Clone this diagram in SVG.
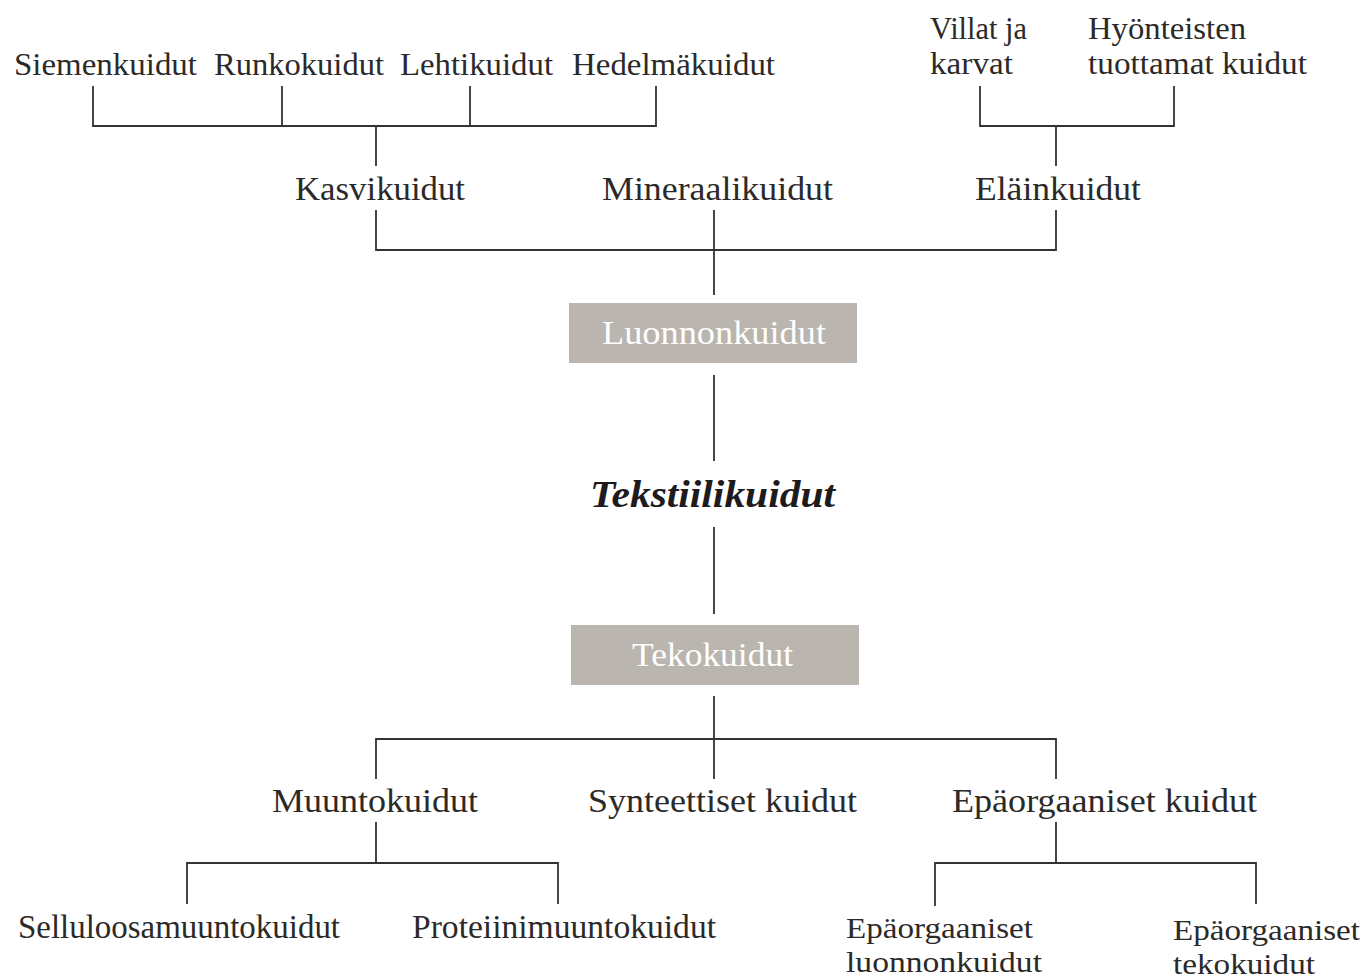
<svg xmlns="http://www.w3.org/2000/svg" width="1363" height="979" viewBox="0 0 1363 979">
<style>
.t{font-family:"Liberation Serif","DejaVu Serif",serif;fill:#2b2a29;}
.top{font-size:31px;}
.mid{font-size:33px;}
.bot{font-size:33px;}
.bot2{font-size:30px;}
.box{fill:#bab5ae;}
.bt{font-family:"Liberation Serif","DejaVu Serif",serif;font-size:33px;fill:#ffffff;}
.main{font-family:"Liberation Serif","DejaVu Serif",serif;font-size:38px;font-weight:bold;font-style:italic;fill:#1e1b1c;}
.c{stroke:#333333;stroke-width:1.8;fill:none;}
</style>
<rect width="1363" height="979" fill="#ffffff"/>
<g id="connectors">
<path class="c" d="M93 86V126H656V86M282 86V126M470 86V126M376 126V166"/>
<path class="c" d="M980 86V126H1174V86M1056 126V166"/>
<path class="c" d="M376 210V250H1056V210M714 210V295"/>
<path class="c" d="M714 375V461"/>
<path class="c" d="M714 527V614"/>
<path class="c" d="M714 696V779M376 779V739H1056V779"/>
<path class="c" d="M376 822V863M187 904V863H558V904"/>
<path class="c" d="M1056 822V863M935 906V863H1256V904"/>
</g>
<g id="siemenkuidut"><text class="t top" x="14" y="75" textLength="183" lengthAdjust="spacingAndGlyphs">Siemenkuidut</text></g>
<g id="runkokuidut"><text class="t top" x="214" y="75" textLength="170" lengthAdjust="spacingAndGlyphs">Runkokuidut</text></g>
<g id="lehtikuidut"><text class="t top" x="400" y="75" textLength="153" lengthAdjust="spacingAndGlyphs">Lehtikuidut</text></g>
<g id="hedelmakuidut"><text class="t top" x="572" y="75" textLength="203" lengthAdjust="spacingAndGlyphs">Hedelmäkuidut</text></g>
<g id="villat"><text class="t top" x="930" y="39" textLength="97" lengthAdjust="spacingAndGlyphs">Villat ja</text><text class="t top" x="930" y="74" textLength="83" lengthAdjust="spacingAndGlyphs">karvat</text></g>
<g id="hyonteisten"><text class="t top" x="1088" y="39" textLength="158" lengthAdjust="spacingAndGlyphs">Hyönteisten</text><text class="t top" x="1088" y="74" textLength="219" lengthAdjust="spacingAndGlyphs">tuottamat kuidut</text></g>
<g id="kasvikuidut"><text class="t mid" x="295" y="200" textLength="170" lengthAdjust="spacingAndGlyphs">Kasvikuidut</text></g>
<g id="mineraalikuidut"><text class="t mid" x="602" y="200" textLength="231" lengthAdjust="spacingAndGlyphs">Mineraalikuidut</text></g>
<g id="elainkuidut"><text class="t mid" x="975" y="200" textLength="166" lengthAdjust="spacingAndGlyphs">Eläinkuidut</text></g>
<g id="luonnonkuidut"><rect class="box" x="569" y="303" width="288" height="60"/><text class="bt" x="602" y="344" textLength="224" lengthAdjust="spacingAndGlyphs">Luonnonkuidut</text></g>
<g id="tekstiilikuidut"><text class="main" x="590" y="507" textLength="245" lengthAdjust="spacingAndGlyphs">Tekstiilikuidut</text></g>
<g id="tekokuidut"><rect class="box" x="571" y="625" width="288" height="60"/><text class="bt" x="632" y="666" textLength="161" lengthAdjust="spacingAndGlyphs">Tekokuidut</text></g>
<g id="muuntokuidut"><text class="t bot" x="272" y="812" textLength="206" lengthAdjust="spacingAndGlyphs">Muuntokuidut</text></g>
<g id="synteettiset"><text class="t bot" x="588" y="812" textLength="269" lengthAdjust="spacingAndGlyphs">Synteettiset kuidut</text></g>
<g id="epaorgaaniset"><text class="t bot" x="952" y="812" textLength="305" lengthAdjust="spacingAndGlyphs">Epäorgaaniset kuidut</text></g>
<g id="selluloosa"><text class="t bot" x="18" y="938" textLength="322" lengthAdjust="spacingAndGlyphs">Selluloosamuuntokuidut</text></g>
<g id="proteiini"><text class="t bot" x="412" y="938" textLength="304" lengthAdjust="spacingAndGlyphs">Proteiinimuuntokuidut</text></g>
<g id="epa-luonnon"><text class="t bot2" x="846" y="938" textLength="187" lengthAdjust="spacingAndGlyphs">Epäorgaaniset</text><text class="t bot2" x="846" y="972" textLength="196" lengthAdjust="spacingAndGlyphs">luonnonkuidut</text></g>
<g id="epa-teko"><text class="t bot2" x="1173" y="940" textLength="187" lengthAdjust="spacingAndGlyphs">Epäorgaaniset</text><text class="t bot2" x="1173" y="974" textLength="142" lengthAdjust="spacingAndGlyphs">tekokuidut</text></g>
</svg>
